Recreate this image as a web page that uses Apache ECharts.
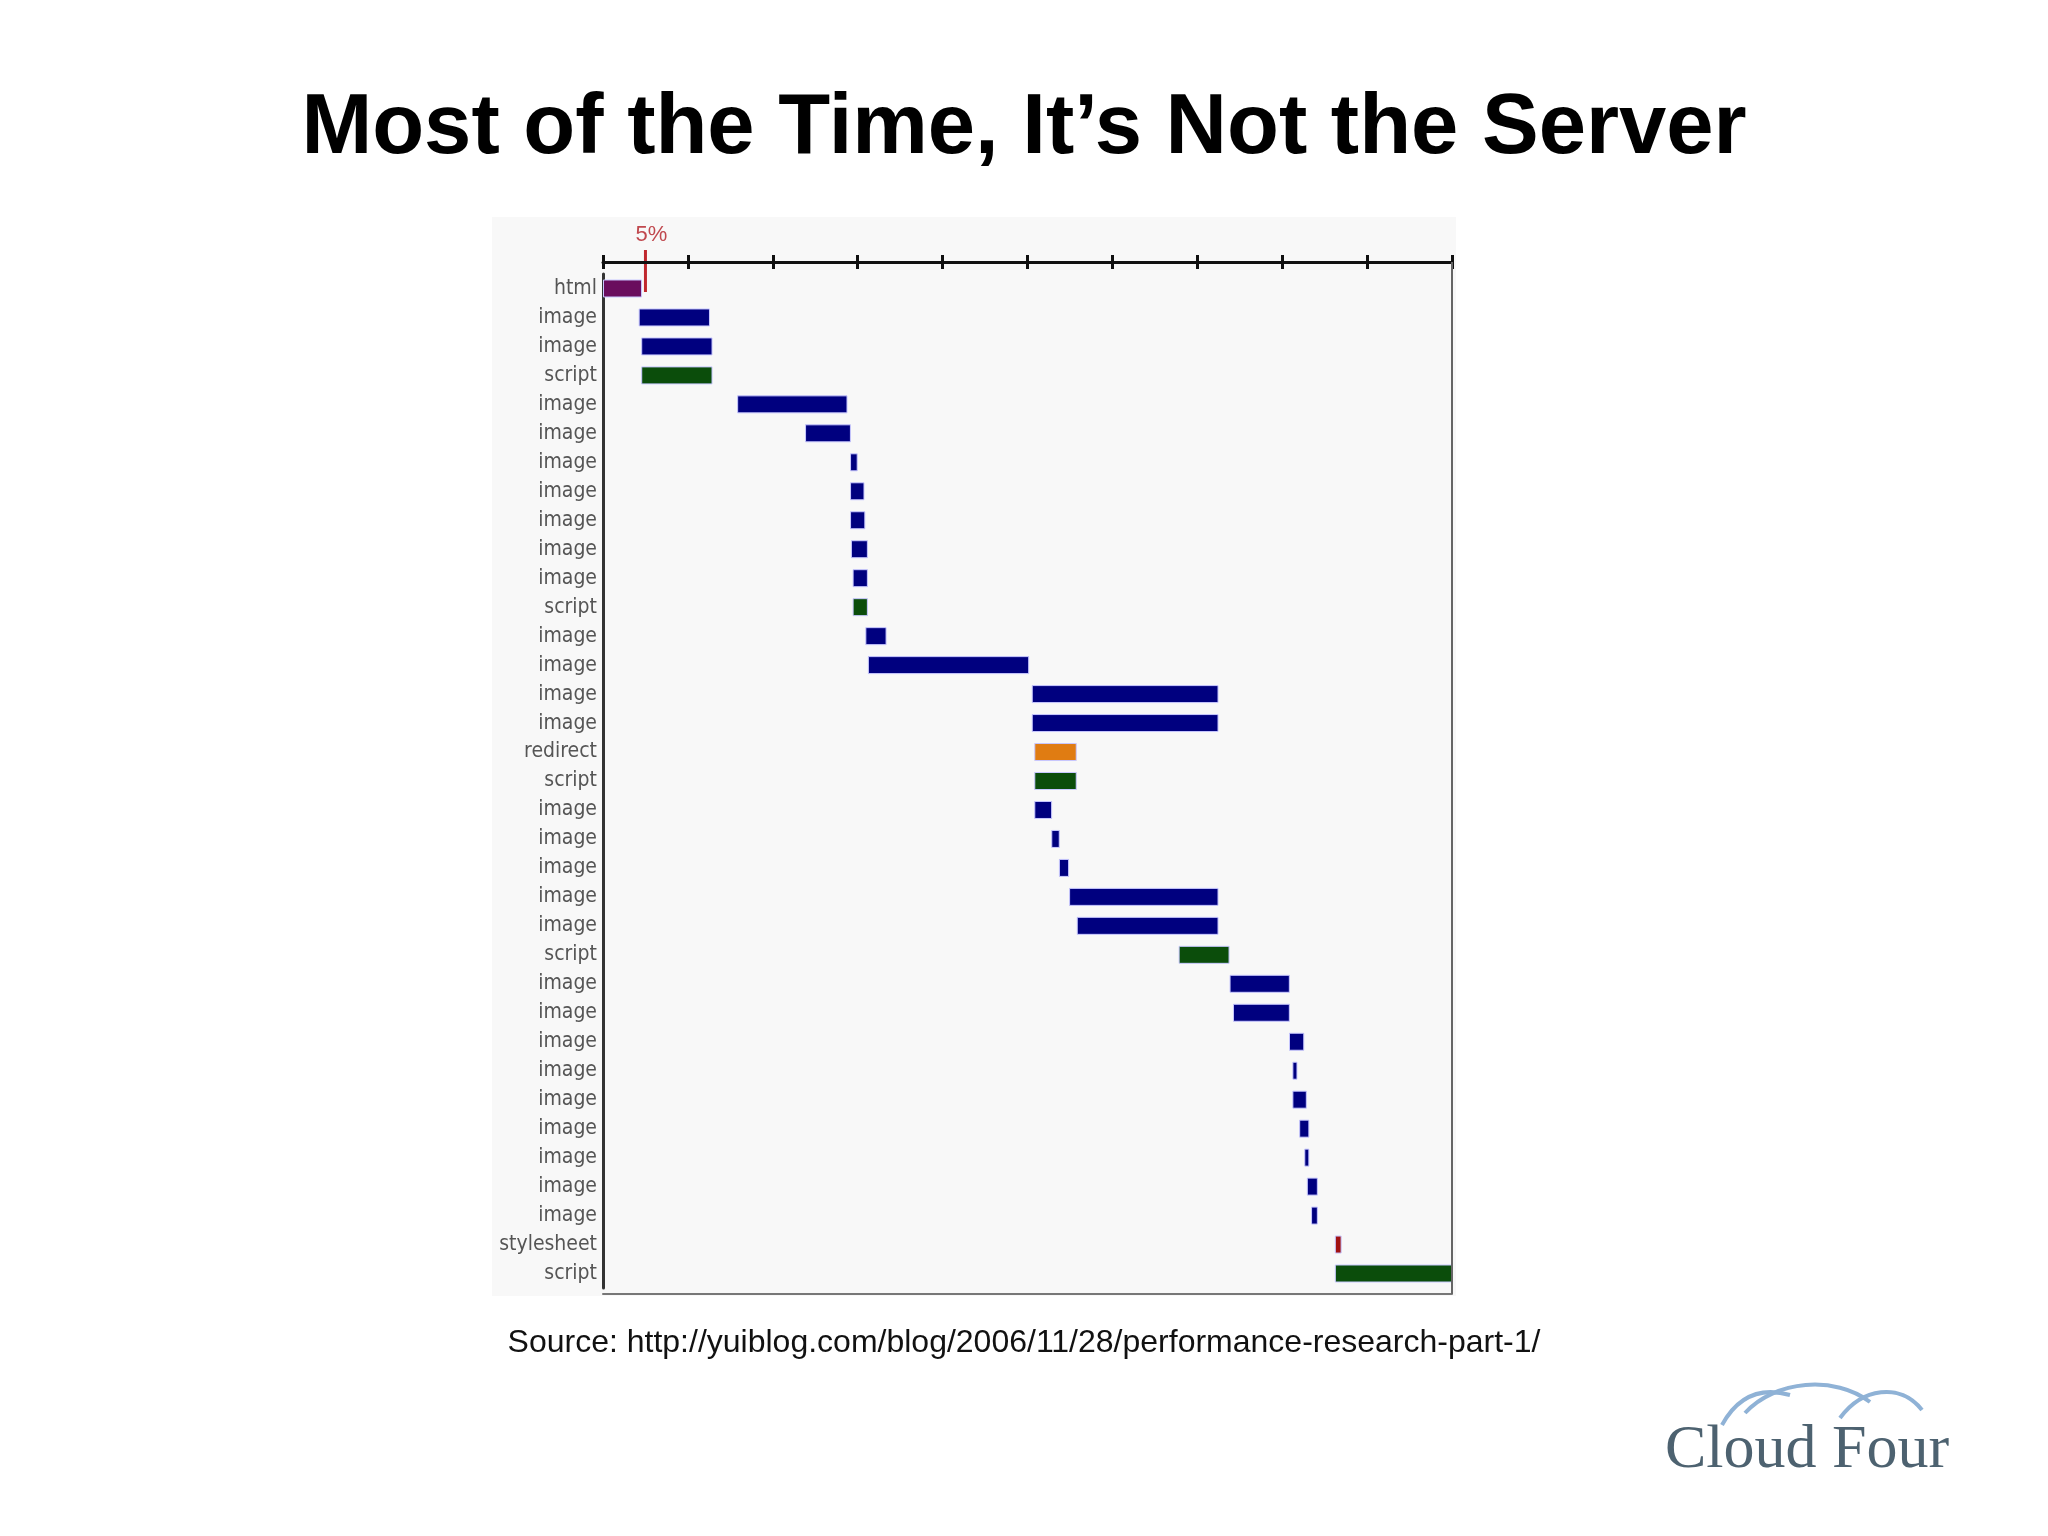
<!DOCTYPE html>
<html><head><meta charset="utf-8">
<script src="https://cdn.jsdelivr.net/npm/echarts@6/dist/echarts.min.js"></script>
<style>html,body{margin:0;padding:0;background:#fff}#c{width:2048px;height:1536px}</style>
</head><body><div id="c"></div>
<script>
const categories = ['html','image','image','script','image','image','image','image','image','image','image','script','image','image','image','image','redirect','script','image','image','image','image','image','script','image','image','image','image','image','image','image','image','image','stylesheet','script'];
const starts = [0,4.2,4.5,4.5,15.8,23.8,29.1,29.1,29.1,29.2,29.4,29.4,30.9,31.2,50.5,50.5,50.8,50.8,50.8,52.8,53.7,54.9,55.8,67.8,73.8,74.2,80.8,81.2,81.2,82.0,82.6,82.9,83.4,86.2,86.2];
const ends   = [4.6,12.6,12.9,12.9,28.8,29.2,30.0,30.8,30.9,31.2,31.2,31.2,33.4,50.2,72.5,72.5,55.8,55.8,52.9,53.8,54.9,72.5,72.5,73.8,80.9,80.9,82.6,81.8,82.9,83.2,83.2,84.2,84.2,87.0,100];
const typeColors = {html:'#6a0d5e', image:'#00007f', script:'#0b4d0b', redirect:'#e07c12', stylesheet:'#a11212'};
const marker = 5;

const chart = echarts.init(document.getElementById('c'));
const durations = categories.map((c,i)=>({value:+(ends[i]-starts[i]).toFixed(2), itemStyle:{color:typeColors[c]}}));
chart.setOption({
  backgroundColor:'#fff',
  animation:false,
  title:[{text:'Most of the Time, It’s Not the Server', left:'center', top:82,
    textStyle:{fontFamily:'Liberation Sans', fontWeight:'bold', fontSize:85, color:'#000'}},
    {text:'Source: http://yuiblog.com/blog/2006/11/28/performance-research-part-1/', left:'center', top:1322,
    textStyle:{fontFamily:'Liberation Sans', fontWeight:'normal', fontSize:32, color:'#111'}}],
  grid:{left:603, right:596, top:274, height:1014, show:true, borderWidth:0, backgroundColor:'#f8f8f8'},
  xAxis:[{type:'value', min:0, max:100, interval:10, position:'top', offset:12,
    axisLine:{show:true, lineStyle:{color:'#111', width:3}}, axisTick:{show:true, length:7, lineStyle:{color:'#111',width:3}},
    axisLabel:{show:false}, splitLine:{show:false}},
    {type:'value', min:0, max:100, interval:10, position:'top', offset:12,
    axisLine:{show:false}, axisTick:{show:true, inside:true, length:7, lineStyle:{color:'#111',width:3}},
    axisLabel:{show:false}, splitLine:{show:false}},
    {type:'value', min:0, max:100, position:'bottom', offset:6,
    axisLine:{show:true, lineStyle:{color:'#777', width:2}}, axisTick:{show:false}, axisLabel:{show:false}, splitLine:{show:false}}],
  yAxis:[{type:'category', data:categories, inverse:true,
    axisLine:{show:true, onZero:false, lineStyle:{color:'#333', width:3}}, axisTick:{show:false},
    axisLabel:{fontFamily:'Liberation Sans Narrow, DejaVu Sans Condensed, Liberation Sans', fontSize:21, color:'#555', margin:6}},
    {type:'category', data:categories, inverse:true, position:'right',
    axisLine:{show:true, onZero:false, lineStyle:{color:'#666', width:2}}, axisTick:{show:false}, axisLabel:{show:false}}],
  series:[
    {type:'bar', stack:'t', data:starts, barWidth:18, itemStyle:{color:'rgba(0,0,0,0)'}, silent:true},
    {type:'bar', stack:'t', data:durations, barWidth:18, barMinHeight:4, itemStyle:{borderColor:'#c8c8ff', borderWidth:1}}
  ]
});
const p0 = chart.convertToPixel({xAxisIndex:0}, marker);
const right = chart.convertToPixel({xAxisIndex:0}, 100);
chart.setOption({graphic:[
  {type:'rect', z:-10, shape:{x:492,y:217,width:964,height:1079}, style:{fill:'#f8f8f8'}},
  {type:'line', z:10, shape:{x1:right,y1:262,x2:right,y2:1294}, style:{stroke:'#666', lineWidth:2}},
  {type:'line', shape:{x1:p0,y1:250,x2:p0,y2:292}, style:{stroke:'#c0282e', lineWidth:3}},
  {type:'text', x:p0-10, y:224, style:{text:marker+'%', fontFamily:'Liberation Sans', fontSize:22, fill:'#c0484e'}},
  {type:'text', x:1665, y:1420, style:{text:'Cloud Four', fontFamily:'Liberation Serif', fontSize:62, fill:'#4d6270'}},
  {type:'bezierCurve', shape:{x1:1722,y1:1425,x2:1790,y2:1395,cpx1:1740,cpy1:1392,cpx2:1765,cpy2:1388}, style:{stroke:'#8fb2d6', lineWidth:4, fill:null}},
  {type:'bezierCurve', shape:{x1:1745,y1:1413,x2:1870,y2:1402,cpx1:1775,cpy1:1380,cpx2:1835,cpy2:1375}, style:{stroke:'#8fb2d6', lineWidth:4, fill:null}},
  {type:'bezierCurve', shape:{x1:1840,y1:1418,x2:1922,y2:1410,cpx1:1862,cpy1:1388,cpx2:1900,cpy2:1382}, style:{stroke:'#8fb2d6', lineWidth:4, fill:null}}
]});
</script></body></html>
